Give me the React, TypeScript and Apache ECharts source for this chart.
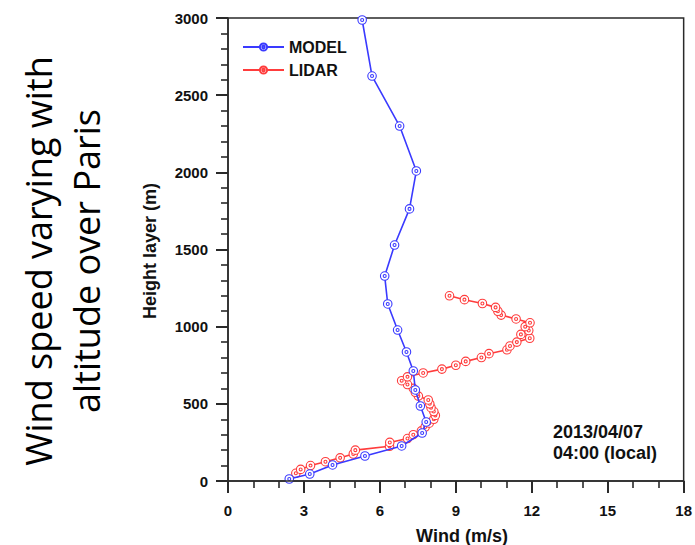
import React, { useEffect, useRef } from "react";
import * as echarts from "echarts";

const modelHeights = [13, 45, 104, 162, 227, 311, 382, 486, 590, 713, 836, 978, 1147, 1328, 1529, 1763, 2009, 2300, 2624, 2987];
const modelWind = [2.42, 3.23, 4.13, 5.41, 6.86, 7.67, 7.83, 7.6, 7.4, 7.32, 7.05, 6.7, 6.31, 6.19, 6.58, 7.17, 7.44, 6.78, 5.69, 5.3];

const lidarHeights = [50, 75, 100, 125, 150, 175, 200, 225, 250, 275, 300, 325, 350, 375, 400, 425, 450, 475, 500, 525, 550, 575, 600, 625, 650, 675, 700, 725, 750, 775, 800, 825, 850, 875, 900, 925, 950, 975, 1000, 1025, 1050, 1075, 1100, 1125, 1150, 1175, 1200];
const lidarWind = [2.68, 2.87, 3.26, 3.85, 4.43, 4.95, 5.03, 6.38, 6.39, 7.09, 7.32, 7.64, 7.79, 7.95, 8.13, 8.19, 8.13, 8.02, 7.97, 7.91, 7.52, 7.4, 7.32, 7.09, 6.86, 7.09, 7.71, 8.45, 9.0, 9.39, 10.01, 10.31, 11.02, 11.14, 11.41, 11.92, 11.57, 11.88, 11.74, 11.93, 11.38, 10.79, 10.66, 10.57, 10.05, 9.34, 8.75];

const xMinorSplit = 3;
const yMinorSplit = 5;

const seriesNames = ["MODEL", "LIDAR"];
const xTitle = "Wind (m/s)";
const yTitle = "Height layer (m)";
const sideTitle = ["Wind speed varying with", "altitude over Paris"];
const stamp = ["2013/04/07", "04:00 (local)"];

const BLUE = "#3a3aff";
const RED = "#ff3c3c";
const AX = "#2a2a2a";
const FONT = "'Liberation Sans', Arial, Helvetica, sans-serif";
const MARK = "path://M0,-10A10,10 0 1,1 0,10A10,10 0 1,1 0,-10Z M0,-3.5A3.5,3.5 0 1,1 0,3.5A3.5,3.5 0 1,1 0,-3.5Z";

export default function App() {
  const ref = useRef<HTMLDivElement>(null);
  useEffect(() => {
    if (!ref.current) return;
    const chart = echarts.init(ref.current, undefined, { renderer: "svg" });
    const model = modelWind.map((w, i) => [w, modelHeights[i]]);
    const lidar = lidarWind.map((w, i) => [w, lidarHeights[i]]);
    chart.setOption({
      animation: false,
      backgroundColor: "#ffffff",
      grid: {
        left: 228,
        right: 6,
        top: 18,
        bottom: 64,
        show: true,
        borderColor: AX,
        borderWidth: 1.5,
        backgroundColor: "rgba(0,0,0,0)",
        z: 0,
      },
      legend: {
        orient: "vertical",
        left: 237,
        top: 34,
        itemWidth: 41,
        itemHeight: 9,
        itemGap: 7,
        textStyle: { fontFamily: FONT, fontWeight: "bold", fontSize: 16, color: "#111" },
        data: seriesNames,
      },
      xAxis: {
        type: "value",
        min: 0,
        max: 18,
        interval: 3,
        z: 10,
        axisLine: { show: true, onZero: false, lineStyle: { color: AX, width: 1.5 } },
        axisTick: { show: true, inside: false, length: 12, lineStyle: { color: AX, width: 2 } },
        minorTick: { show: true, splitNumber: xMinorSplit, length: 7, lineStyle: { color: AX, width: 1.6 } },
        splitLine: { show: false },
        minorSplitLine: { show: false },
        axisLabel: { margin: 22, fontFamily: FONT, fontWeight: "bold", fontSize: 15, color: "#111" },
      },
      yAxis: {
        type: "value",
        min: 0,
        max: 3000,
        interval: 500,
        z: 10,
        axisLine: { show: true, onZero: false, lineStyle: { color: AX, width: 1.5 } },
        axisTick: { show: true, inside: false, length: 12, lineStyle: { color: AX, width: 2 } },
        minorTick: { show: true, splitNumber: yMinorSplit, length: 7, lineStyle: { color: AX, width: 1.6 } },
        splitLine: { show: false },
        minorSplitLine: { show: false },
        axisLabel: {
          margin: 20,
          fontFamily: FONT,
          fontWeight: "bold",
          fontSize: 15,
          color: "#111",
          formatter: (v: number) => String(v),
        },
      },
      series: [
        {
          name: seriesNames[0],
          type: "line",
          data: model,
          symbol: MARK,
          symbolSize: 8.5,
          lineStyle: { color: BLUE, width: 1.6 },
          itemStyle: { color: "#ffffff", borderColor: BLUE, borderWidth: 1.1 },
          z: 3,
        },
        {
          name: seriesNames[1],
          type: "line",
          data: lidar,
          symbol: MARK,
          symbolSize: 8.5,
          lineStyle: { color: RED, width: 1.6 },
          itemStyle: { color: "#ffffff", borderColor: RED, borderWidth: 1.1 },
          z: 2,
        },
      ],
      graphic: [
        {
          type: "text",
          x: 38,
          y: 261,
          rotation: Math.PI / 2,
          style: {
            text: sideTitle[0],
            fontFamily: "'Open Sans', 'Noto Sans', sans-serif",
            fontSize: 36,
            fill: "#000",
            align: "center",
            verticalAlign: "middle",
          },
        },
        {
          type: "text",
          x: 86,
          y: 261,
          rotation: Math.PI / 2,
          style: {
            text: sideTitle[1],
            fontFamily: "'Open Sans', 'Noto Sans', sans-serif",
            fontSize: 36,
            fill: "#000",
            align: "center",
            verticalAlign: "middle",
          },
        },
        {
          type: "text",
          x: 150,
          y: 251,
          rotation: Math.PI / 2,
          style: {
            text: yTitle,
            fontFamily: FONT,
            fontWeight: "bold",
            fontSize: 18,
            fill: "#111",
            align: "center",
            verticalAlign: "middle",
          },
        },
        {
          type: "text",
          x: 462,
          y: 536,
          style: {
            text: xTitle,
            fontFamily: FONT,
            fontWeight: "bold",
            fontSize: 18,
            fill: "#111",
            align: "center",
            verticalAlign: "middle",
          },
        },
        {
          type: "text",
          x: 553,
          y: 432,
          style: {
            text: stamp[0],
            fontFamily: FONT,
            fontWeight: "bold",
            fontSize: 18,
            fill: "#111",
            align: "left",
            verticalAlign: "middle",
          },
        },
        {
          type: "text",
          x: 553,
          y: 453,
          style: {
            text: stamp[1],
            fontFamily: FONT,
            fontWeight: "bold",
            fontSize: 18,
            fill: "#111",
            align: "left",
            verticalAlign: "middle",
          },
        },
      ],
    });
    return () => chart.dispose();
  }, []);
  return <div ref={ref} style={{ width: 695, height: 545, position: "fixed", left: 0, top: 0 }} />;
}
